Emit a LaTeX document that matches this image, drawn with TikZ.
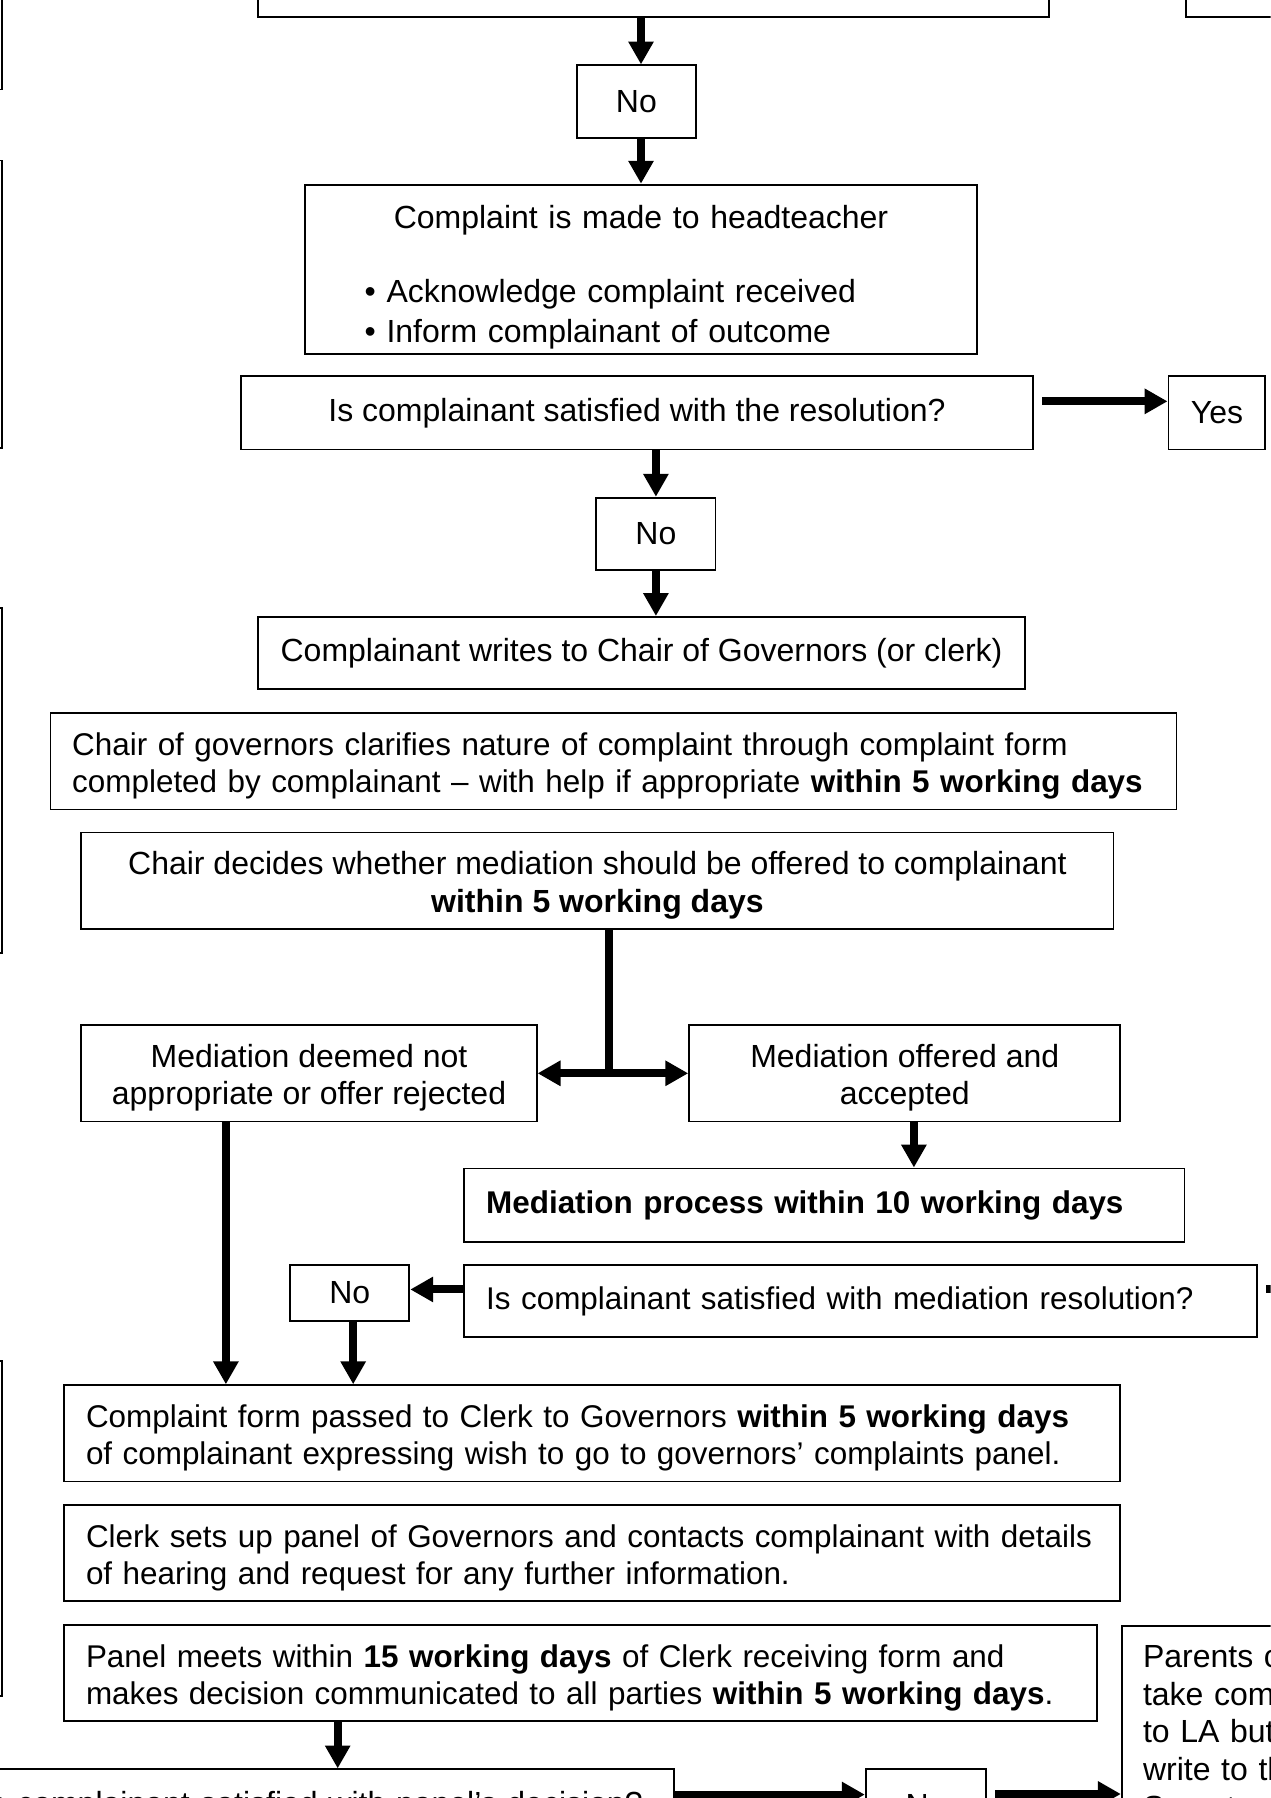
\documentclass[tikz,border=0pt]{standalone}
\usepackage{fontspec}
\setmainfont{Liberation Sans}
\usetikzlibrary{arrows.meta}
\newcommand{\tallstrut}{\rule{0pt}{28pt}}

\begin{document}
\begin{tikzpicture}[x=1pt, y=-1pt,
    font=\fontsize{27.9}{33}\selectfont,
    box/.style={draw, line width=1.6pt, inner sep=4pt, align=center},
    lbox/.style={box, align=left, inner xsep=19pt, font=\fontsize{27.4}{32.5}\selectfont},
    arr/.style={line width=7pt, -{Triangle[length=20pt, width=21pt]}},
    shaft/.style={line width=7pt}]
    \useasboundingbox (0,0) rectangle (1108,1568);
    \clip (0,0) rectangle (1108,1568);

    % boxes cut by the page edge
    \node[box, minimum width=690pt, minimum height=80pt] (start) at (570,-25) {};
    \node[box, minimum width=216pt, minimum height=80pt] (topright) at (1142,-25) {};
    \node[box, minimum width=152pt, minimum height=143pt] (noteA) at (-74,6.5) {};
    \node[box, minimum width=152pt, minimum height=251pt] (noteB) at (-74,265.5) {};
    \node[box, minimum width=152pt, minimum height=301pt] (noteC) at (-74,680.5) {};
    \node[box, minimum width=152pt, minimum height=292pt] (noteD) at (-74,1333) {};

    % headteacher stage
    \node[box, minimum width=104pt, minimum height=63pt] (no1) at (555,88.5) {No};
    \node[box, align=left, inner xsep=0pt, text width=586pt, minimum height=148pt] (hdt) at (559,235)
        {\rule{0pt}{34pt}\makebox[586pt]{Complaint is made to headteacher}\\[31pt]
         \hspace*{52pt}\textbullet\ Acknowledge complaint received\\[2pt]
         \hspace*{52pt}\textbullet\ Inform complainant of outcome};
    \node[box, minimum width=691pt, minimum height=64pt] (q1) at (555.5,360) {Is complainant satisfied with the resolution?};
    \node[box, minimum width=84.5pt, minimum height=64pt] (yes) at (1061.25,360) {Yes};
    \node[box, minimum width=104pt, minimum height=63pt] (no2) at (572,465.5) {No};

    % governors stage
    \node[box, minimum width=669pt, minimum height=63pt] (writes) at (559.5,569.5) {Complainant writes to Chair of Governors (or clerk)};
    \node[lbox, text width=944pt, minimum height=84pt] (clarify) at (535,664)
        {\tallstrut Chair of governors clarifies nature of complaint through complaint form\\
         completed by complainant -- with help if appropriate \textbf{within 5 working days}};
    \node[box, minimum width=900pt, minimum height=84pt] (decide) at (521,768)
        {\tallstrut Chair decides whether mediation should be offered to complainant\\ \textbf{within 5 working days}};
    \node[box, minimum width=397pt, minimum height=84pt] (deemed) at (269.5,936) {\tallstrut Mediation deemed not\\ appropriate or offer rejected};
    \node[box, minimum width=376pt, minimum height=84pt] (offered) at (789,936) {\tallstrut Mediation offered and\\ accepted};
    \node[lbox, text width=590pt, minimum height=64pt] (process) at (719,1051) {\textbf{Mediation process within 10 working days}};
    \node[box, minimum width=104pt, minimum height=49pt] (no3) at (305,1127.5) {No};
    \node[lbox, text width=653.5pt, minimum height=63pt] (medq) at (750.75,1134.5) {Is complainant satisfied with mediation resolution?};

    % panel stage
    \node[lbox, text width=883pt, minimum height=84pt] (form) at (516.5,1250)
        {\tallstrut Complaint form passed to Clerk to Governors \textbf{within 5 working days}\\
         of complainant expressing wish to go to governors’ complaints panel.};
    \node[lbox, text width=883pt, minimum height=83.4pt] (clerk) at (516.5,1354.3)
        {\tallstrut Clerk sets up panel of Governors and contacts complainant with details\\
         of hearing and request for any further information.};
    \node[lbox, text width=863pt, minimum height=84pt] (panel) at (506.5,1459)
        {\tallstrut Panel meets within \textbf{15 working days} of Clerk receiving form and\\
         makes decision communicated to all parties \textbf{within 5 working days}.};
    \node[box, align=left, anchor=north west, inner xsep=18.5pt, inner ysep=17pt, text width=250pt] (parents) at (977.5,1417)
        {Parents c\\ take com\\ to LA but\\ write to th\\ Secretary};
    \node[box, align=right, inner xsep=27pt, text width=733.5pt, minimum height=64pt] (bq) at (193.75,1575)
        {e complainant satisfied with panel’s decision?};
    \node[box, minimum width=105pt, minimum height=63pt] (no4) at (807.5,1574.5) {No};

    % connectors
    \draw[arr] (start.south -| hdt.north) -- (no1.north -| hdt.north);
    \draw[arr] (no1.south -| hdt.north) -- (hdt.north);
    \draw[arr] ([xshift=7pt, yshift=10pt]q1.east) -- ([yshift=10pt]q1.east -| yes.west);
    \draw[arr] (q1.south -| no2.north) -- (no2.north);
    \draw[arr] (no2.south) -- (no2.south |- writes.north);
    \coordinate (split) at (531,936);
    \draw[shaft] (decide.south -| split) -- (split);
    \draw[arr] (split) -- (deemed.east);
    \draw[arr] (split) -- (offered.west);
    \draw[arr] ([xshift=8pt]offered.south) -- ([xshift=8pt]offered.south |- process.north);
    \draw[arr] ([yshift=10pt]medq.west) -- ([yshift=10pt]medq.west -| no3.east);
    \draw[shaft] ([xshift=7pt, yshift=10pt]medq.east) -- +(30,0);
    \draw[arr] ([xshift=-72.5pt]deemed.south) -- ([xshift=-72.5pt]deemed.south |- form.north);
    \draw[arr] ([xshift=3pt]no3.south) -- ([xshift=3pt]no3.south |- form.north);
    \draw[arr] ([xshift=-212pt]panel.south) -- ([xshift=-212pt]panel.south |- bq.north);
    \draw[arr] ([yshift=10pt]bq.east) -- ([yshift=10pt]bq.east -| no4.west);
    \draw[arr] ([xshift=7pt, yshift=10pt]no4.east) -- ([yshift=10pt]no4.east -| parents.west);
\end{tikzpicture}
\end{document}
